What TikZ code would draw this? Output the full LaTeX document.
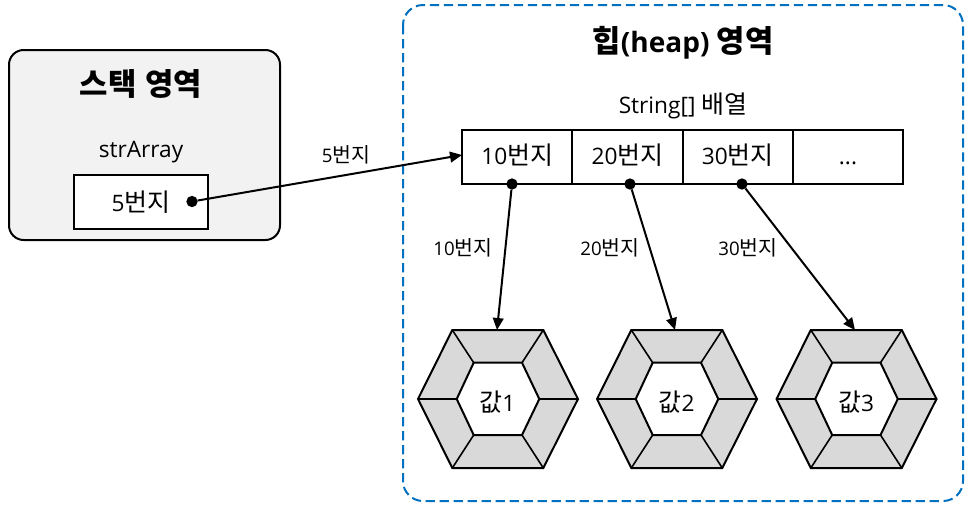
\documentclass[tikz,border=0pt]{standalone}
\usepackage{fontspec}
\setmainfont{Open Sans}
\newfontfamily\cjk[Scale=1.1]{Noto Sans CJK KR}
\newcommand{\kr}[1]{{\cjk #1}}
\usetikzlibrary{positioning,arrows.meta}
\definecolor{stackgray}{HTML}{F2F2F2}
\definecolor{hexgray}{HTML}{D9D9D9}
\definecolor{heapblue}{HTML}{0070C0}
\tikzset{
  cell/.style={draw,line width=1.5pt,minimum width=82.7pt,minimum height=40.5pt,inner sep=0pt,outer sep=0pt,text height=13pt,text depth=2pt,font=\fontsize{17}{20}\selectfont},
  dot/.style={circle,fill=black,minimum size=8.5pt,inner sep=0pt,outer sep=0pt},
  link/.style={line width=1.5pt,-{Triangle[length=9pt,width=8pt]}},
  small/.style={inner sep=0pt,font=\fontsize{14}{17}\selectfont},
  normal/.style={inner sep=0pt,font=\fontsize{17}{20}\selectfont},
  title/.style={inner sep=0pt,font=\fontsize{21}{25}\selectfont\bfseries}
}
\begin{document}
\begin{tikzpicture}[x=0.75pt,y=-0.75pt,node distance=0pt]
\useasboundingbox (0,0) rectangle (970,508);
% stack
\draw[line width=1.5pt,rounded corners=11pt,fill=stackgray] (9,50) rectangle (280,240);
\node[title] (stacktitle) at (141,84) {\kr{스택\hspace{0.3em}영역}};
\node[normal] (strarray) at (141,152) {strArray};
\node[cell,fill=white,minimum width=100pt] (strbox) at (141,201.5) {};
\node[normal] (strval) at (141,202) {5\kr{번지}};
\node[dot] (strdot) at (192,201.5) {};
% heap
\draw[heapblue,line width=1.5pt,dashed,dash pattern=on 7pt off 3.5pt,rounded corners=15pt] (403,5) rectangle (963,501);
\node[title] (heaptitle) at (683,43) {\kr{힙}(heap) \kr{영역}};
\node[normal] (arrtitle) at (683,106) {String[] \kr{배열}};
\node[cell] (cell1) at (517.2,157) {10\kr{번지}};
\node[cell,right=of cell1] (cell2) {20\kr{번지}};
\node[cell,right=of cell2] (cell3) {30\kr{번지}};
\node[cell,right=of cell3] (cell4) {...};
\node[dot] (dot1) at (512,184) {};
\node[dot] (dot2) at (630,184) {};
\node[dot] (dot3) at (742,184) {};
% values
\foreach \hx/\hid/\tipx in {0/1/497,179/2/675,358.5/3/855} {
  \begin{scope}[xshift=\hx*0.75pt]
    \draw[line width=1.5pt,fill=hexgray,line join=miter] (418,399) -- (452.3,330) -- (543.3,330) -- (578,399) -- (543.3,468) -- (452.3,468) -- cycle;
    \draw[line width=1.5pt,fill=white] (456.7,399) -- (473.7,362.7) -- (522,362.7) -- (539.3,399) -- (522,435) -- (473.7,435) -- cycle;
    \draw[line width=1.2pt] (418,399) -- (456.7,399) (578,399) -- (539.3,399);
    \draw[line width=1.2pt] (452.3,330) -- (473.7,362.7) (543.3,330) -- (522,362.7);
    \draw[line width=1.2pt] (452.3,468) -- (473.7,435) (543.3,468) -- (522,435);
    \node[normal] (val\hid) at (497.5,402) {\kr{값}\hid};
  \end{scope}
  \coordinate (top\hid) at (\tipx,330);
}
% links
\coordinate (arrin) at (462,155);
\draw[link] (strdot) -- (arrin);
\draw[link] (dot1) -- (top1);
\draw[link] (dot2) -- (top2);
\draw[link] (dot3) -- (top3);
\node[small] (lab5) at (346,155) {5\kr{번지}};
\node[small] (lab10) at (463,248) {10\kr{번지}};
\node[small] (lab20) at (610,248) {20\kr{번지}};
\node[small] (lab30) at (748,248) {30\kr{번지}};
\end{tikzpicture}
\end{document}
